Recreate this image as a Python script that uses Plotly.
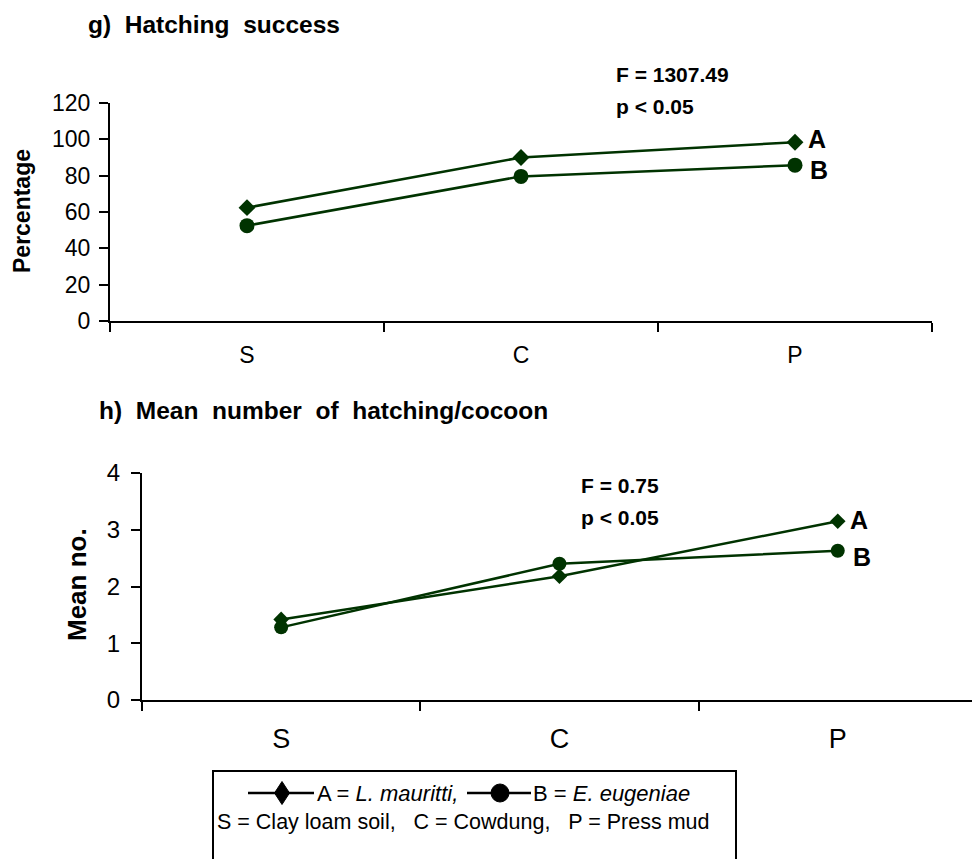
import plotly.graph_objects as go

categories = ["S", "C", "P"]
hatch_A = [62.4, 90.0, 98.4]
hatch_B = [52.5, 79.6, 85.8]
mean_A = [1.42, 2.18, 3.15]
mean_B = [1.28, 2.40, 2.63]

W, H = 972, 859
GREEN = "#003300"
ARIAL = "Liberation Sans, Arial, sans-serif"
NB = "\u00a0"


def px(x):
    return x / W


def py(y):
    return 1 - y / H


fig = go.Figure()

fig.add_trace(go.Scatter(x=categories, y=hatch_A, mode="lines+markers", name="A",
                         line=dict(color=GREEN, width=2.5), marker=dict(symbol="diamond", size=13, color=GREEN),
                         xaxis="x", yaxis="y"))
fig.add_trace(go.Scatter(x=categories, y=hatch_B, mode="lines+markers", name="B",
                         line=dict(color=GREEN, width=2.5), marker=dict(symbol="circle", size=15, color=GREEN),
                         xaxis="x", yaxis="y"))
fig.add_trace(go.Scatter(x=categories, y=mean_A, mode="lines+markers", name="A",
                         line=dict(color=GREEN, width=2.5), marker=dict(symbol="diamond", size=12, color=GREEN),
                         xaxis="x2", yaxis="y2"))
fig.add_trace(go.Scatter(x=categories, y=mean_B, mode="lines+markers", name="B",
                         line=dict(color=GREEN, width=2.5), marker=dict(symbol="circle", size=14, color=GREEN),
                         xaxis="x2", yaxis="y2"))

axis_common = dict(showline=True, linecolor="black", linewidth=2, ticks="outside", tickcolor="black",
                   tickwidth=2, ticklen=9, showgrid=False, zeroline=False)

# legend box glyphs (drawn as shapes)
LY = 793
shapes = [
    dict(type="rect", xref="paper", yref="paper", x0=px(213), x1=px(736), y0=py(771), y1=py(875),
         line=dict(color="black", width=2), fillcolor="rgba(0,0,0,0)"),
    dict(type="line", xref="paper", yref="paper", x0=px(248), x1=px(314), y0=py(LY), y1=py(LY),
         line=dict(color="black", width=2.5)),
    dict(type="path", xref="paper", yref="paper",
         path=f"M {px(282)} {py(LY - 11.5)} L {px(289.5)} {py(LY)} L {px(282)} {py(LY + 11.5)} L {px(274.5)} {py(LY)} Z",
         line=dict(color="black", width=1), fillcolor="black"),
    dict(type="line", xref="paper", yref="paper", x0=px(467), x1=px(531), y0=py(LY), y1=py(LY),
         line=dict(color="black", width=2.5)),
    dict(type="circle", xref="paper", yref="paper", x0=px(491), x1=px(509), y0=py(LY - 9), y1=py(LY + 9),
         line=dict(color="black", width=1), fillcolor="black"),
]

fig.update_layout(
    width=W, height=H, margin=dict(l=0, r=0, t=0, b=0, autoexpand=False),
    paper_bgcolor="white", plot_bgcolor="white",
    font=dict(family=ARIAL, color="black"),
    showlegend=False,
    xaxis=dict(domain=[px(110), px(932)], anchor="y", type="category", tickson="boundaries",
               range=[-0.5, 2.5], tickfont=dict(size=23), ticklabelstandoff=12, **axis_common),
    yaxis=dict(domain=[py(321), py(103)], anchor="x", range=[0, 120], tickvals=[0, 20, 40, 60, 80, 100, 120],
               tickfont=dict(size=23), ticklabelstandoff=4, **axis_common),
    xaxis2=dict(domain=[px(142), 1.0], anchor="y2", type="category", tickson="boundaries",
                range=[-0.5, -0.5 + 830 / 278.3], tickfont=dict(size=27), ticklabelstandoff=14, **axis_common),
    yaxis2=dict(domain=[py(700), py(473)], anchor="x2", range=[0, 4], tickvals=[0, 1, 2, 3, 4],
                tickfont=dict(size=24), ticklabelstandoff=6, **axis_common),
    shapes=shapes,
)

ann = []
ann.append(dict(text=f"<b>g){NB} Hatching{NB} success</b>", x=px(86), y=py(25), xanchor="left",
                yanchor="middle", font=dict(size=24.5)))
ann.append(dict(text=f"<b>h){NB} Mean{NB} number{NB} of{NB} hatching/cocoon</b>", x=px(97), y=py(410),
                xanchor="left", yanchor="middle", font=dict(size=24.5)))
ann.append(dict(text="<b>Percentage</b>", x=px(22), y=py(211), textangle=-90, xanchor="center",
                yanchor="middle", font=dict(size=23)))
ann.append(dict(text="<b>Mean no.</b>", x=px(77), y=py(585), textangle=-90, xanchor="center",
                yanchor="middle", font=dict(size=26)))
ann.append(dict(text="<b>F = 1307.49</b>", x=px(614), y=py(75), xanchor="left", yanchor="middle",
                font=dict(size=21)))
ann.append(dict(text="<b>p < 0.05</b>", x=px(614), y=py(107), xanchor="left", yanchor="middle",
                font=dict(size=21)))
ann.append(dict(text="<b>F = 0.75</b>", x=px(579), y=py(485), xanchor="left", yanchor="middle",
                font=dict(size=21)))
ann.append(dict(text="<b>p < 0.05</b>", x=px(579), y=py(517), xanchor="left", yanchor="middle",
                font=dict(size=21)))
ann.append(dict(text="<b>A</b>", x="P", y=hatch_A[2], xref="x", yref="y", xanchor="left", xshift=11,
                yanchor="middle", yshift=3, font=dict(size=25)))
ann.append(dict(text="<b>B</b>", x="P", y=hatch_B[2], xref="x", yref="y", xanchor="left", xshift=13,
                yanchor="middle", yshift=-5, font=dict(size=25)))
ann.append(dict(text="<b>A</b>", x="P", y=mean_A[2], xref="x2", yref="y2", xanchor="left", xshift=10,
                yanchor="middle", yshift=1, font=dict(size=25)))
ann.append(dict(text="<b>B</b>", x="P", y=mean_B[2], xref="x2", yref="y2", xanchor="left", xshift=13,
                yanchor="middle", yshift=-6, font=dict(size=25)))
# legend texts
ann.append(dict(text="A = <i>L. mauritti,</i>", x=px(315), y=py(LY), xanchor="left", yanchor="middle",
                font=dict(size=22)))
ann.append(dict(text="B = <i>E. eugeniae</i>", x=px(531), y=py(LY), xanchor="left", yanchor="middle",
                font=dict(size=22)))
ann.append(dict(text=f"S = Clay loam soil,{NB}{NB} C = Cowdung,{NB}{NB} P = Press mud", x=px(463), y=py(822),
                xanchor="center", yanchor="middle", font=dict(size=21.5)))

for a in ann:
    a.setdefault("xref", "paper")
    a.setdefault("yref", "paper")
    a.setdefault("showarrow", False)
fig.update_layout(annotations=ann)

fig.write_html("out.html")
